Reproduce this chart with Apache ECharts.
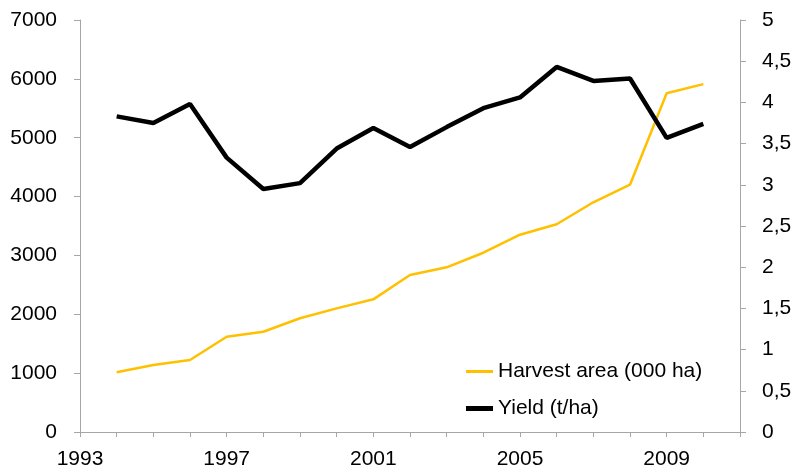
<!DOCTYPE html>
<html>
<head>
<meta charset="utf-8">
<script src="https://cdn.jsdelivr.net/npm/echarts@6/dist/echarts.min.js"></script>
<style>
  html, body { margin: 0; padding: 0; background: #fff; }
  #chart { width: 795px; height: 475px; }
</style>
</head>
<body>
<div id="chart"></div>
<script>
    // categories (axis runs 1993..2011, data only 1994..2010)
    const years = ["1993", "1994", "1995", "1996", "1997", "1998", "1999", "2000", "2001", "2002",
                   "2003", "2004", "2005", "2006", "2007", "2008", "2009", "2010", "2011"];

    // harvest area, 000 ha (left axis)
    const harvestArea = [null, 1015, 1138, 1223, 1619, 1704, 1932, 2101, 2254, 2667,
                         2798, 3046, 3352, 3529, 3903, 4201, 5755, 5910, null];

    // yield, t/ha (right axis)
    const yieldTha = [null, 3.83, 3.75, 3.98, 3.33, 2.95, 3.02, 3.44, 3.69, 3.46,
                      3.70, 3.93, 4.06, 4.43, 4.26, 4.29, 3.57, 3.74, null];

    const font = 'Liberation Sans';
    const axisGrey = '#a6a6a6';

    const myChart = echarts.init(document.getElementById('chart'));

    const option = {
        animation: false,
        textStyle: { fontFamily: font },
        grid: {
            left: 80,
            right: 55,
            top: 20,
            bottom: 43
        },
        legend: [
            {
                orient: 'vertical',
                left: 466,
                top: 361,
                padding: 0,
                itemWidth: 27,
                itemHeight: 3,
                icon: 'rect',
                data: ['Harvest area (000 ha)'],
                textStyle: { fontFamily: font, fontSize: 21, color: '#000' }
            },
            {
                orient: 'vertical',
                left: 466,
                top: 398,
                padding: 0,
                itemWidth: 27,
                itemHeight: 5,
                icon: 'rect',
                data: ['Yield (t/ha)'],
                textStyle: { fontFamily: font, fontSize: 21, color: '#000' }
            }
        ],
        xAxis: {
            type: 'category',
            data: years,
            boundaryGap: false,
            axisLine: { lineStyle: { color: axisGrey, width: 1 } },
            axisTick: { show: true, interval: 0, length: 5, lineStyle: { color: axisGrey } },
            axisLabel: {
                interval: 3,
                margin: 17,
                fontFamily: font,
                fontSize: 21,
                color: '#000'
            },
            splitLine: { show: false }
        },
        yAxis: [
            {
                type: 'value',
                min: 0,
                max: 7000,
                interval: 1000,
                axisLine: { show: true, lineStyle: { color: axisGrey } },
                axisTick: { show: true, length: 6, lineStyle: { color: axisGrey } },
                axisLabel: {
                    margin: 23,
                    fontFamily: font,
                    fontSize: 21,
                    color: '#000',
                    formatter: function (v) { return String(v); }
                },
                splitLine: { show: false }
            },
            {
                type: 'value',
                position: 'right',
                min: 0,
                max: 5,
                interval: 0.5,
                axisLine: { show: true, lineStyle: { color: axisGrey } },
                axisTick: { show: true, length: 6, lineStyle: { color: axisGrey } },
                axisLabel: {
                    margin: 22,
                    fontFamily: font,
                    fontSize: 21,
                    color: '#000',
                    formatter: function (v) { return String(v).replace('.', ','); }
                },
                splitLine: { show: false }
            }
        ],
        series: [
            {
                name: 'Harvest area (000 ha)',
                type: 'line',
                yAxisIndex: 0,
                data: harvestArea,
                symbol: 'none',
                color: '#ffc000',
                lineStyle: { color: '#ffc000', width: 2.5 }
            },
            {
                name: 'Yield (t/ha)',
                type: 'line',
                yAxisIndex: 1,
                data: yieldTha,
                symbol: 'none',
                color: '#000000',
                lineStyle: { color: '#000000', width: 4.5 }
            }
        ]
    };

    myChart.setOption(option);
</script>
</body>
</html>
